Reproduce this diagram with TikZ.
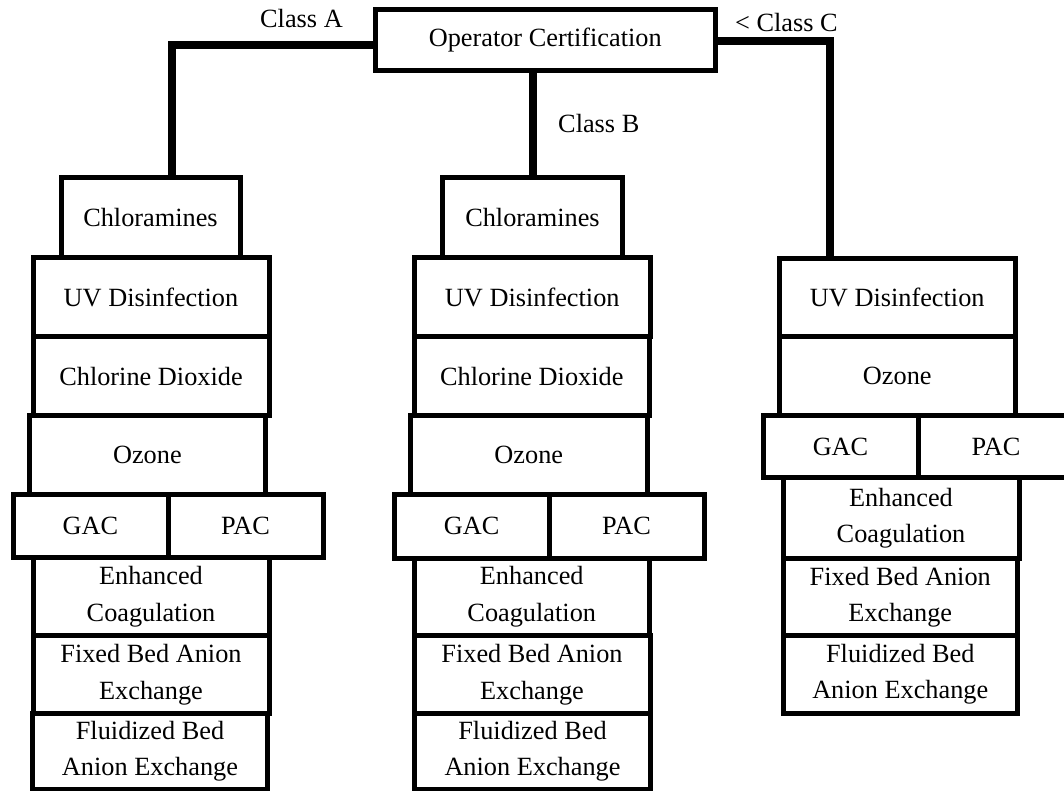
\documentclass[tikz,border=0pt]{standalone}
\usepackage{fontspec}
\setmainfont{Liberation Serif}
\tikzset{
  box/.style={draw=black, line width=5pt, fill=white, inner sep=0pt, align=center,
    font=\fontsize{26.3}{36.5}\selectfont},
  conn/.style={draw=black, line width=8pt, line join=miter},
  lbl/.style={inner sep=0pt, anchor=base west, font=\fontsize{26.3}{36.5}\selectfont}
}
\newcommand{\bx}[6]{%
  \node[box, minimum width={(#4-#2)*1pt}, minimum height={(#5-#3)*1pt}]
    (#1) at ({(#2+#4)/2},{(#3+#5)/2}) {#6};}
\begin{document}
\begin{tikzpicture}[x=1pt,y=-1pt]
\useasboundingbox (0,0) rectangle (1064,791);
% top
\bx{op}{375.5}{10}{715}{71}{Operator Certification}
% column A
\bx{chlA}{61}{178}{240}{258}{Chloramines}
\bx{ozA}{29}{415.8}{265.8}{494}{Ozone}
\bx{uvA}{33}{258}{269}{336.7}{UV Disinfection}
\bx{cdA}{33}{336.7}{269}{415.8}{Chlorine Dioxide}
\bx{ecA}{33}{557.5}{269}{635.8}{Enhanced\\Coagulation}
\bx{fbA}{33}{635.8}{269}{713.5}{Fixed Bed Anion\\Exchange}
\bx{flA}{32.5}{713.5}{267.5}{789}{Fluidized Bed\\Anion Exchange}
\bx{gacA}{13}{494}{168}{557.5}{GAC}
\bx{pacA}{168}{494}{323}{557.5}{PAC}
% column B
\bx{chlB}{442.5}{178}{622.5}{258}{Chloramines}
\bx{ozB}{410.5}{415.8}{647}{494}{Ozone}
\bx{uvB}{414}{258}{650.5}{336.7}{UV Disinfection}
\bx{cdB}{414}{336.7}{649.5}{415.8}{Chlorine Dioxide}
\bx{ecB}{414}{558}{649.5}{635.8}{Enhanced\\Coagulation}
\bx{fbB}{414}{635.8}{650}{713.5}{Fixed Bed Anion\\Exchange}
\bx{flB}{414.5}{713.5}{650.5}{789}{Fluidized Bed\\Anion Exchange}
\bx{gacB}{394.5}{494}{549}{558}{GAC}
\bx{pacB}{549}{494}{704}{558}{PAC}
% column C
\bx{uvC}{779}{259}{1015.5}{336.8}{UV Disinfection}
\bx{ozC}{779}{336.8}{1015.5}{415.8}{Ozone}
\bx{ecC}{783}{477.5}{1019}{558.5}{Enhanced\\Coagulation}
\bx{fbC}{783}{558.5}{1017.5}{635.8}{Fixed Bed Anion\\Exchange}
\bx{flC}{783}{635.8}{1017.5}{713}{Fluidized Bed\\Anion Exchange}
\bx{gacC}{763}{415.8}{918}{477.5}{GAC}
\bx{pacC}{918}{415.8}{1074}{477.5}{PAC}
% connectors
\coordinate (cA) at (172,45);
\coordinate (cC) at (830,41);
\draw[conn] ([yshift=-4.5pt]op.west) -- (cA) -- (cA |- chlA.north);
\draw[conn] (chlB.north) -- (chlB.north |- op.south);
\draw[conn] (op.east |- cC) -- (cC) -- (cC |- uvC.north);
% labels
\node[lbl] (la) at (260,28) {Class A};
\node[lbl] (lb) at (558,133) {Class B};
\node[lbl] (lc) at (735,32) {< Class C};
\end{tikzpicture}
\end{document}
